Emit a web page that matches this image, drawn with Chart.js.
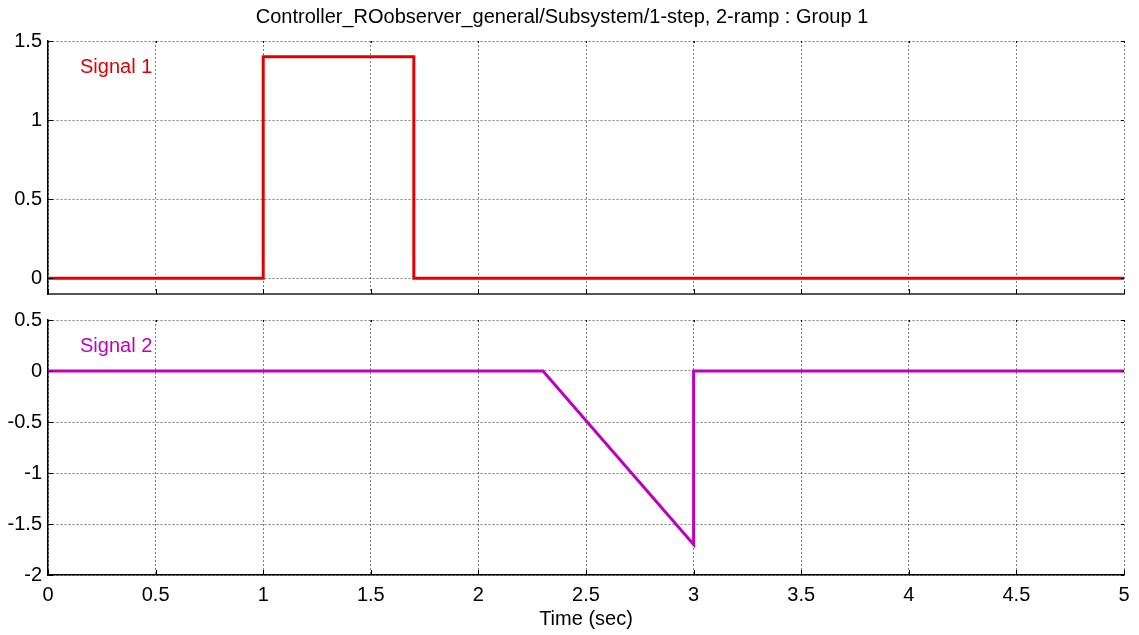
<!DOCTYPE html>
<html>
<head>
<meta charset="utf-8">
<script src="https://cdn.jsdelivr.net/npm/chart.js@4/dist/chart.umd.min.js"></script>
<style>
  html, body { margin: 0; padding: 0; background: #fff; }
  #wrap { position: relative; width: 1139px; height: 635px; }
  #top, #bottom { position: absolute; left: 0; }
  #top { top: 0; }
  #bottom { top: 300px; }
</style>
</head>
<body>
<div id="wrap">
  <canvas id="top" width="1139" height="300"></canvas>
  <canvas id="bottom" width="1139" height="335"></canvas>
</div>
<script>
// scope data
const sig1Time = [0, 1, 1, 1.7, 1.7, 5];
const sig1Vals = [0, 0, 1.4, 1.4, 0, 0];
const sig2Time = [0, 2.3, 3, 3, 5];
const sig2Vals = [0, 0, -1.7, 0, 0];

const xTickVals = [0, 0.5, 1, 1.5, 2, 2.5, 3, 3.5, 4, 4.5, 5];
const yTicksTop = [0, 0.5, 1, 1.5];
const yTicksBottom = [-2, -1.5, -1, -0.5, 0, 0.5];

const title = 'Controller_ROobserver_general/Subsystem/1-step, 2-ramp : Group 1';
const FONT = "'Liberation Sans', Arial, sans-serif";

Chart.defaults.font.family = FONT;
Chart.defaults.color = '#000';

let toPoints = (ts, vs) => ts.map((t, i) => ({ x: t, y: vs[i] }));

let $id = id => document.getElementById(id);

// small inward tick marks on all four sides + signal label
let scopeDecor = {
  id: 'scopeDecor',
  afterDraw(chart, args, opts) {
    let { ctx, chartArea: a, scales } = chart;
    ctx.save();
    ctx.strokeStyle = '#000';
    ctx.lineWidth = 1;
    ctx.beginPath();
    scales.x.ticks.forEach(t => {
      let px = Math.round(scales.x.getPixelForValue(t.value)) + 0.5;
      ctx.moveTo(px, a.bottom); ctx.lineTo(px, a.bottom - 5);
      ctx.moveTo(px, a.top); ctx.lineTo(px, a.top + 2);
    });
    scales.y.ticks.forEach(t => {
      let py = Math.round(scales.y.getPixelForValue(t.value)) + 0.5;
      ctx.moveTo(a.left, py); ctx.lineTo(a.left + 5, py);
      ctx.moveTo(a.right, py); ctx.lineTo(a.right - 3, py);
    });
    ctx.stroke();
    ctx.fillStyle = opts.color;
    ctx.font = '20px ' + FONT;
    ctx.textBaseline = 'middle';
    ctx.fillText(opts.text, a.left + 32, a.top + 26);
    ctx.restore();
  }
};

let makeScope = (id, data, color, label, yMin, yMax, yTicks, isBottom) => {
  let ctx = $id(id).getContext('2d');
  return new Chart(ctx, {
    type: 'scatter',
    data: {
      datasets: [{
        data: data,
        showLine: true,
        borderColor: color,
        borderWidth: 3,
        pointRadius: 0,
        tension: 0
      }]
    },
    options: {
      responsive: false,
      animation: false,
      layout: { padding: { top: isBottom ? 20 : 0, right: 15, bottom: isBottom ? 0 : 6, left: 0 } },
      plugins: {
        legend: { display: false },
        tooltip: { enabled: false },
        title: {
          display: !isBottom,
          text: title,
          font: { size: 20, weight: 'normal' },
          color: '#000',
          padding: { top: 5, bottom: 12 }
        },
        scopeDecor: { text: label, color: color }
      },
      scales: {
        x: {
          type: 'linear',
          min: 0,
          max: 5,
          afterBuildTicks: s => { s.ticks = xTickVals.map(v => ({ value: v })); },
          afterFit: s => {
            s.height = isBottom ? 60 : 0;
            s.paddingLeft = 0; s.paddingRight = 0;
          },
          grid: { color: 'rgba(0,0,0,0.5)', lineWidth: 1, drawTicks: false },
          border: { display: true, color: isBottom ? '#000' : '#555', width: isBottom ? 1.5 : 2, dash: [2, 2] },
          ticks: {
            display: isBottom,
            padding: 8,
            maxRotation: 0,
            font: { size: 20 },
            callback: v => String(v)
          },
          title: {
            display: isBottom,
            text: 'Time (sec)',
            font: { size: 20 },
            padding: { top: 0, bottom: 4 }
          }
        },
        y: {
          min: yMin,
          max: yMax,
          afterBuildTicks: s => { s.ticks = yTicks.map(v => ({ value: v })); },
          afterFit: s => {
            s.width = 48;
            s.paddingTop = 0; s.paddingBottom = 0;
          },
          grid: { color: 'rgba(0,0,0,0.5)', lineWidth: 1, drawTicks: false },
          border: { display: true, color: '#000', width: 1.5, dash: [2, 2] },
          ticks: {
            padding: 6,
            font: { size: 20 },
            callback: v => String(v)
          }
        }
      }
    },
    plugins: [scopeDecor]
  });
};

let topScope = makeScope('top', toPoints(sig1Time, sig1Vals), 'rgb(224,0,0)', 'Signal 1', -0.1, 1.5, yTicksTop, false);
let bottomScope = makeScope('bottom', toPoints(sig2Time, sig2Vals), 'rgb(192,0,192)', 'Signal 2', -2, 0.5, yTicksBottom, true);
</script>
</body>
</html>
